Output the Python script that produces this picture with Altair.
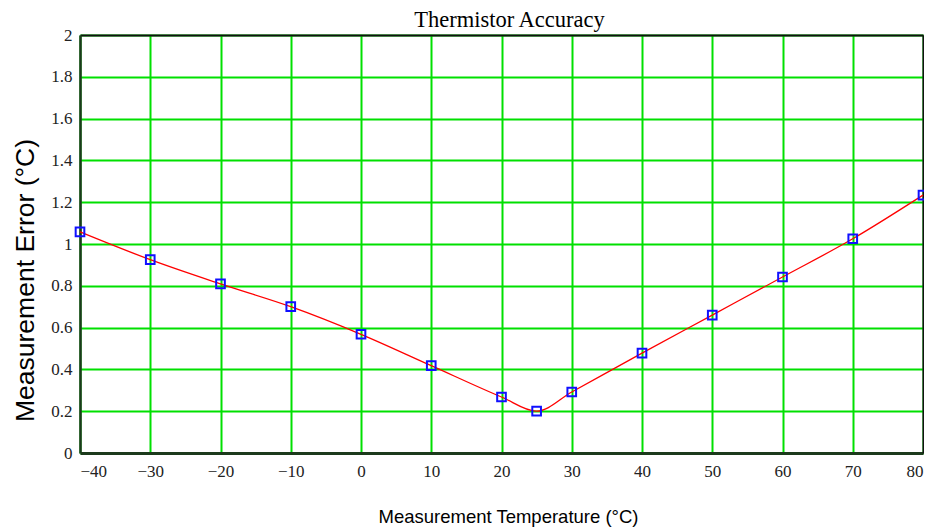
import altair as alt
import pandas as pd

# ---- data ----
temps = [-40, -30, -20, -10, 0, 10, 20, 25, 30, 40, 50, 60, 70, 80]
errors = [1.058, 0.925, 0.809, 0.700, 0.568, 0.418, 0.268, 0.200, 0.292, 0.478, 0.660, 0.842, 1.025, 1.234]
x_ticks = [-40, -30, -20, -10, 0, 10, 20, 30, 40, 50, 60, 70, 80]
y_ticks = [0, 0.2, 0.4, 0.6, 0.8, 1.0, 1.2, 1.4, 1.6, 1.8, 2.0]
chart_title = "Thermistor Accuracy"

df = pd.DataFrame({"t": temps, "e": errors})

SERIF = "Liberation Serif"
SANS = "Liberation Sans"
GRID = "#00e000"

xscale = alt.Scale(domain=[-40, 80], nice=False, zero=False)
yscale = alt.Scale(domain=[0, 2], nice=False, zero=True)

x_main = alt.X("t:Q", scale=xscale, axis=alt.Axis(
    orient="bottom", values=x_ticks, format="d", ticks=False, labelPadding=10,
    labelExpr="replace(datum.label, '-', '\u2212')",
    labelFont=SERIF, labelFontSize=17, labelColor="#222", labelFlush=True,
    grid=True, gridColor=GRID, gridWidth=2,
    domain=True, domainColor="#1c3a1c", domainWidth=3,
    title="Measurement Temperature (°C)", titleFont=SANS, titleFontSize=18.5,
    titleFontWeight="normal", titleColor="#000", titleX=428, titleY=69,
    titleBaseline="alphabetic"))
y_main = alt.Y("e:Q", scale=yscale, axis=alt.Axis(
    orient="left", values=y_ticks, format=".1~f", ticks=False, labelPadding=8,
    labelFont=SERIF, labelFontSize=17, labelColor="#222",
    grid=True, gridColor=GRID, gridWidth=2,
    domain=True, domainColor="#1c3a1c", domainWidth=2.5,
    title="Measurement Error (°C)", titleFont=SANS, titleFontSize=26.5,
    titleFontWeight="normal", titleColor="#000", titleX=-47, titleY=245,
    titleBaseline="alphabetic"))

line = alt.Chart(df).mark_line(color="#ff0000", strokeWidth=1.3, interpolate="monotone").encode(
    x=x_main, y=y_main)

x_top = alt.X("t:Q", scale=xscale, axis=alt.Axis(
    orient="top", values=x_ticks, labels=False, ticks=False, grid=False,
    domain=True, domainColor="#111", domainWidth=2,
    title=chart_title, titleFont=SERIF, titleFontSize=22.5, titleFontWeight="normal",
    titleColor="#000", titleX=429, titleY=-9, titleBaseline="alphabetic",
    titleAlign="center"))
y_right = alt.Y("e:Q", scale=yscale, axis=alt.Axis(
    orient="right", values=y_ticks, labels=False, ticks=False, grid=False,
    domain=True, domainColor="#111", domainWidth=2, title=None))

pts = alt.Chart(df).mark_point(shape="square", filled=False, color="#1010ff",
                               size=75, strokeWidth=2, opacity=1).encode(
    x=x_top, y=y_right)

chart = alt.layer(line, pts).resolve_axis(x="independent", y="independent").properties(
    width=843, height=418,
    autosize=alt.AutoSizeParams(type="none"),
    padding={"left": 72, "top": 27, "right": 1, "bottom": 74},
).configure_view(stroke=None)

chart.save("out.html", embed_options={"renderer": "svg", "actions": False})
